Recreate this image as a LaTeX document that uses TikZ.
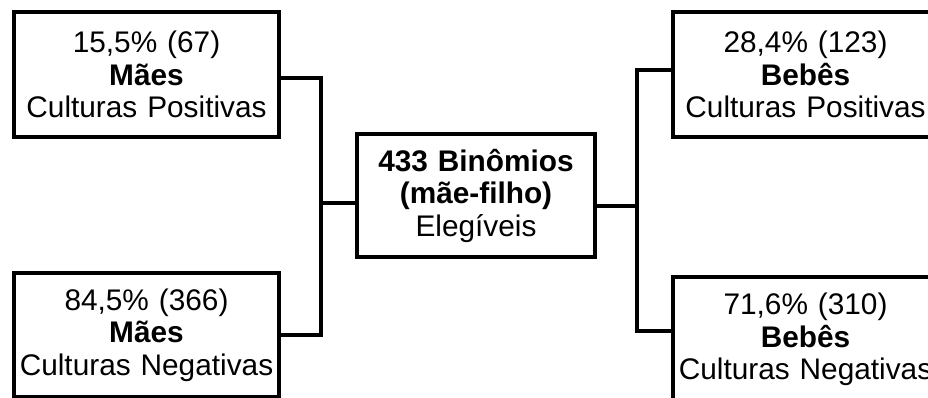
\documentclass[tikz,border=0pt]{standalone}
\usepackage{fontspec}
\setmainfont{Liberation Sans}
\begin{document}
\begin{tikzpicture}[x=1pt,y=-1pt,
  box/.style={draw=black,line width=3.8pt,fill=white,align=center,inner sep=0pt,
    font=\fontsize{29.8}{32.5}\selectfont},
  conn/.style={draw=black,line width=3.8pt}]
\useasboundingbox (0,0) rectangle (928,398);
\fill[white] (0,0) rectangle (928,398);
\node[box,text width=265pt,minimum width=265pt,minimum height=125pt] (mp) at (146.5,74.5)
  {15,5\% (67)\\\textbf{Mães}\\Culturas Positivas};
\node[box,text width=265pt,minimum width=265pt,minimum height=124pt] (mn) at (146.5,335)
  {84,5\% (366)\\\textbf{Mães}\\Culturas Negativas};
\node[box,text width=238pt,minimum width=238pt,minimum height=123pt] (ct) at (476,195.5)
  {\textbf{433 Binômios}\\\textbf{(mãe-filho)}\\Elegíveis};
\node[box,text width=265pt,minimum width=265pt,minimum height=125pt] (bp) at (805.5,74.5)
  {28,4\% (123)\\\textbf{Bebês}\\Culturas Positivas};
\node[box,text width=265pt,minimum width=265pt,minimum height=125pt] (bn) at (805.5,339.5)
  {71,6\% (310)\\\textbf{Bebês}\\Culturas Negativas};
\coordinate (jl) at (321,203);
\coordinate (jr) at (637,206);
\draw[conn] ([yshift=-3.5pt]mp.east) -| (jl) |- (mn.east);
\draw[conn] (jl) -- (ct.west |- jl);
\draw[conn] (ct.east |- jr) -- (jr);
\draw[conn] ([yshift=4.5pt]bp.west) -| (jr) |- ([yshift=8.5pt]bn.west);
\end{tikzpicture}
\end{document}
